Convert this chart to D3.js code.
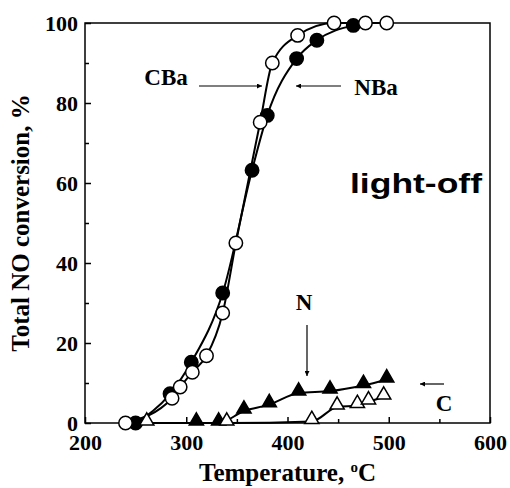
<!DOCTYPE html>
<html>
<head>
<meta charset="utf-8">
<script src="https://cdn.jsdelivr.net/npm/d3@7"></script>
<style>
  body { margin: 0; background: #fff; }
  .axis text { font-family: "Liberation Serif", "Times New Roman", serif; font-weight: bold; font-size: 22px; fill: #000; }
  .axis line { stroke: #000; stroke-width: 1.5; }
  .label { font-family: "Liberation Serif", "Times New Roman", serif; font-weight: bold; fill: #000; }
</style>
</head>
<body>
<div id="chart"></div>
<script>
// x ticks and y ticks
var xTicks = [200, 300, 400, 500, 600];
var xMinor = [250, 350, 450, 550];
var yTicks = [0, 20, 40, 60, 80, 100];
var yMinor = [10, 30, 50, 70, 90];

// NBa (filled circles)
var nbaTemp = [250, 284, 305, 336, 365, 380, 409, 429, 465];
var nbaConv = [0, 7.3, 15.2, 32.5, 63.2, 76.9, 91.1, 95.7, 99.4];

// CBa (open circles)
var cbaTemp = [240, 286, 294, 306, 320, 336, 349, 373, 385, 410, 446, 477, 498];
var cbaConv = [0, 6.2, 9, 12.7, 16.8, 27.5, 45, 75.2, 90, 96.9, 100, 100, 100];

// N (filled triangles)
var nTemp = [310, 332, 357, 382, 411, 442, 475, 498];
var nConv = [0, 0, 3, 4.6, 7.5, 8, 9.4, 10.8];

// C (open triangles)
var cTemp = [261, 340, 424, 449, 469, 480, 495];
var cConv = [0, 0, 0.4, 4, 4.4, 5.3, 6.5];

var svgWidth = 510;
var svgHeight = 488;

var plot = { left: 85, right: 490, top: 23, bottom: 423 };

var svg = d3.select("#chart")
    .append("svg")
    .attr("width", svgWidth)
    .attr("height", svgHeight);

var xScale = d3.scaleLinear()
    .domain([200, 600])
    .range([plot.left, plot.right]);

var yScale = d3.scaleLinear()
    .domain([0, 100])
    .range([plot.bottom, plot.top]);

// frame
svg.append("rect")
    .attr("x", plot.left)
    .attr("y", plot.top)
    .attr("width", plot.right - plot.left)
    .attr("height", plot.bottom - plot.top)
    .attr("fill", "none")
    .attr("stroke", "#000")
    .attr("stroke-width", 1.5);

// axes, ticks point inward
var xAxis = svg.append("g")
    .attr("class", "axis")
    .attr("transform", `translate(0, ${plot.bottom})`)
    .call(d3.axisBottom(xScale).tickValues(xTicks).tickSizeInner(-6).tickSizeOuter(0).tickPadding(11).tickFormat(d3.format("d")));
xAxis.select(".domain").remove();

var xAxisMinor = svg.append("g")
    .attr("class", "axis")
    .attr("transform", `translate(0, ${plot.bottom})`)
    .call(d3.axisBottom(xScale).tickValues(xMinor).tickSizeInner(-4).tickSizeOuter(0).tickFormat(""));
xAxisMinor.select(".domain").remove();

var yAxis = svg.append("g")
    .attr("class", "axis")
    .attr("transform", `translate(${plot.left}, 0)`)
    .call(d3.axisLeft(yScale).tickValues(yTicks).tickSizeInner(-6).tickSizeOuter(0).tickPadding(7));
yAxis.select(".domain").remove();

var yAxisMinor = svg.append("g")
    .attr("class", "axis")
    .attr("transform", `translate(${plot.left}, 0)`)
    .call(d3.axisLeft(yScale).tickValues(yMinor).tickSizeInner(-4).tickSizeOuter(0).tickFormat(""));
yAxisMinor.select(".domain").remove();

// axis titles
svg.append("text")
    .attr("class", "label")
    .attr("transform", `translate(29, ${(plot.top + plot.bottom) / 2}) rotate(-90)`)
    .attr("text-anchor", "middle")
    .style("font-size", "25px")
    .text("Total NO conversion, %");

var xTitle = svg.append("text")
    .attr("class", "label")
    .attr("x", (plot.left + plot.right) / 2)
    .attr("y", 481)
    .attr("text-anchor", "middle")
    .style("font-size", "25px");
xTitle.append("tspan").text("Temperature, ");
xTitle.append("tspan").attr("dy", -9).style("font-size", "15px").text("o");
xTitle.append("tspan").attr("dy", 9).text("C");

// series
function toPoints(temps, convs) {
    return temps.map((t, i) => ({ t: t, v: convs[i] }));
}
var series = [
    { pts: toPoints(nbaTemp, nbaConv), marker: "circle", fill: "#000" },
    { pts: toPoints(cbaTemp, cbaConv), marker: "circle", fill: "#fff" },
    { pts: toPoints(nTemp, nConv), marker: "triangle", fill: "#000" },
    { pts: toPoints(cTemp, cConv), marker: "triangle", fill: "#fff" }
];

var line = d3.line()
    .x(d => xScale(d.t))
    .y(d => yScale(d.v))
    .curve(d3.curveMonotoneX);

series.forEach(function(s) {
    svg.append("path")
        .datum(s.pts)
        .attr("d", line)
        .attr("fill", "none")
        .attr("stroke", "#000")
        .attr("stroke-width", 2);
});

var tri = d3.symbol().type(d3.symbolTriangle).size(88);

series.forEach(function(s) {
    var g = svg.append("g");
    if (s.marker === "circle") {
        g.selectAll("circle")
            .data(s.pts)
            .enter()
            .append("circle")
            .attr("cx", d => xScale(d.t))
            .attr("cy", d => yScale(d.v))
            .attr("r", 6.7)
            .attr("fill", s.fill)
            .attr("stroke", "#000")
            .attr("stroke-width", 1.5);
    } else {
        g.selectAll("path")
            .data(s.pts)
            .enter()
            .append("path")
            .attr("d", tri)
            .attr("transform", d => `translate(${xScale(d.t)}, ${yScale(d.v) - 2})`)
            .attr("fill", s.fill)
            .attr("stroke", "#000")
            .attr("stroke-width", 1.5);
    }
});

// annotations
svg.append("defs").append("marker")
    .attr("id", "head")
    .attr("viewBox", "0 0 10 10")
    .attr("refX", 10)
    .attr("refY", 5)
    .attr("markerWidth", 6)
    .attr("markerHeight", 5)
    .attr("markerUnits", "userSpaceOnUse")
    .attr("orient", "auto")
    .append("path")
    .attr("d", "M0,0 L10,5 L0,10 Z")
    .attr("fill", "#000");

function arrow(x1, y1, x2, y2) {
    svg.append("line")
        .attr("x1", x1).attr("y1", y1)
        .attr("x2", x2).attr("y2", y2)
        .attr("stroke", "#000")
        .attr("stroke-width", 1.2)
        .attr("marker-end", "url(#head)");
}

svg.append("text").attr("class", "label").attr("x", 166).attr("y", 85)
    .attr("text-anchor", "middle").style("font-size", "23px").text("CBa");
arrow(199, 86, 262, 86);

svg.append("text").attr("class", "label").attr("x", 376).attr("y", 95)
    .attr("text-anchor", "middle").style("font-size", "23px").text("NBa");
arrow(341, 86, 296, 86);

svg.append("text").attr("class", "label").attr("x", 304).attr("y", 310)
    .attr("text-anchor", "middle").style("font-size", "23px").text("N");
arrow(307, 325, 307, 376);

svg.append("text").attr("class", "label").attr("x", 444).attr("y", 411)
    .attr("text-anchor", "middle").style("font-size", "23px").text("C");
arrow(444, 384, 420, 384);

svg.append("text")
    .attr("x", 350)
    .attr("y", 193)
    .attr("textLength", 132)
    .attr("lengthAdjust", "spacingAndGlyphs")
    .style("font-family", "'Liberation Sans', Arial, sans-serif")
    .style("font-weight", "bold")
    .style("font-size", "27px")
    .text("light-off");
</script>
</body>
</html>
